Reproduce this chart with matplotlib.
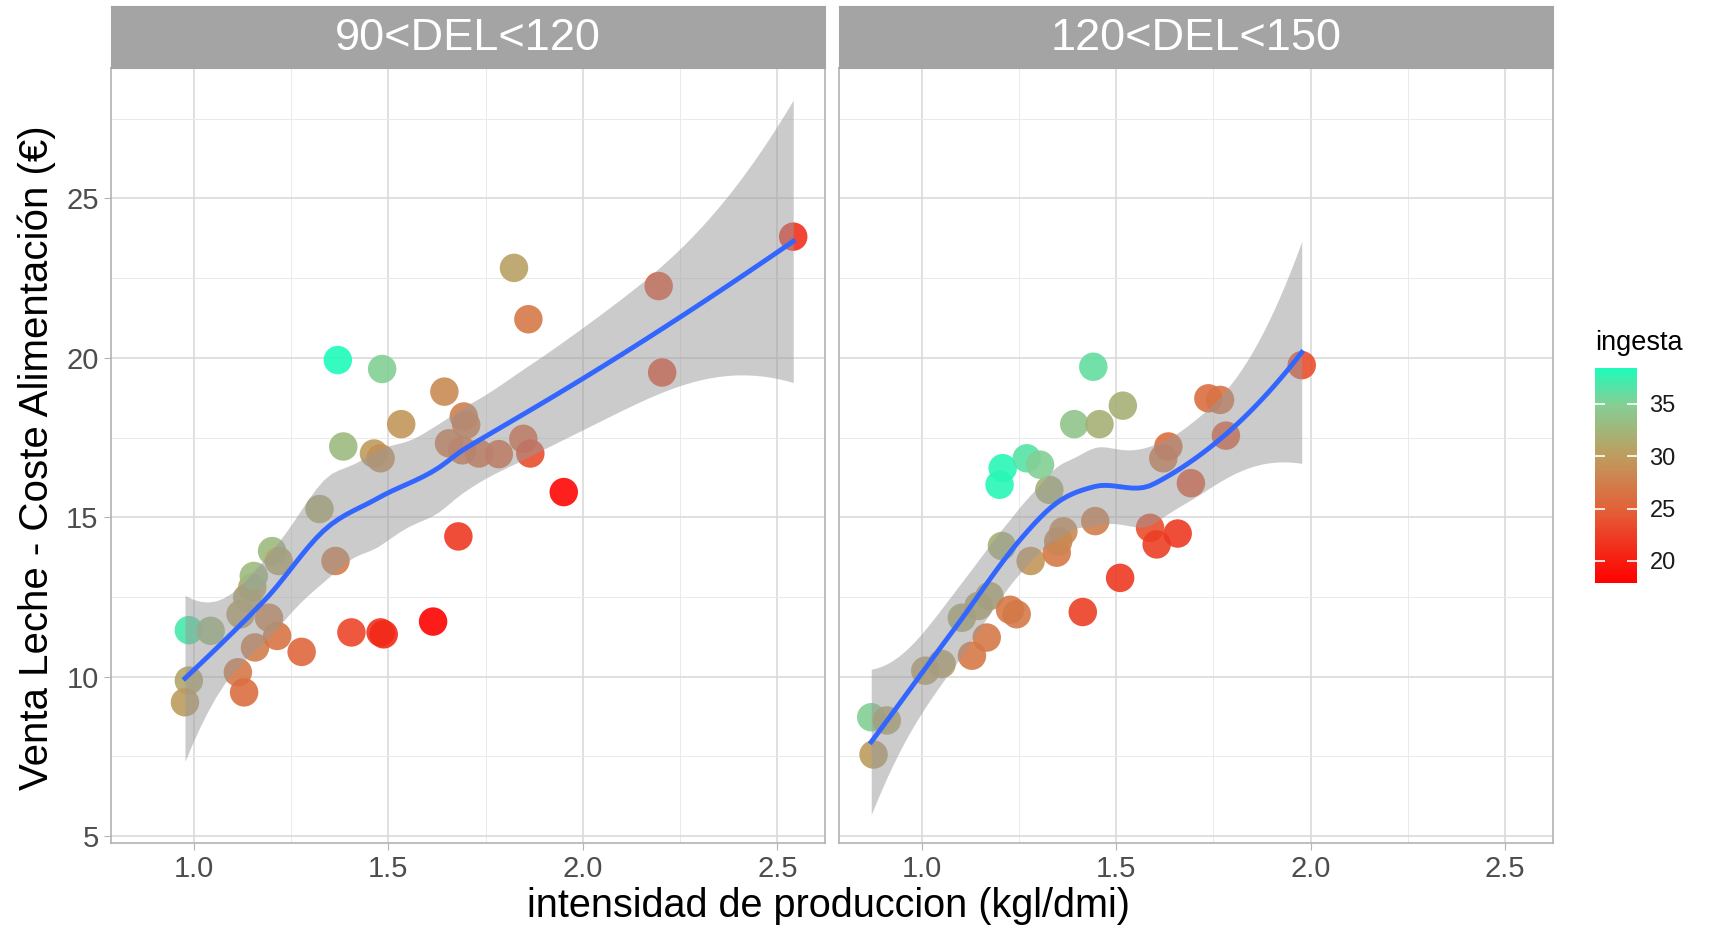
import numpy as np
import matplotlib
matplotlib.use("Agg")
import matplotlib.pyplot as plt
from matplotlib.colors import LinearSegmentedColormap, Normalize
from matplotlib.cm import ScalarMappable
from matplotlib.ticker import MultipleLocator

plt.rcParams['font.family'] = ['Liberation Sans', 'DejaVu Sans']

# panel 1: 90<DEL<120
x_a = [0.987, 1.043, 0.987, 0.977, 1.113, 1.129, 1.157, 1.214, 1.277, 1.193,
       1.120, 1.137, 1.150, 1.154, 1.201, 1.218, 1.323, 1.364, 1.405, 1.480,
       1.488, 1.615, 1.680, 1.951, 1.370, 1.484, 1.384, 1.463, 1.480, 1.533,
       1.644, 1.694, 1.700, 1.656, 1.690, 1.733, 1.784, 1.847, 1.865, 1.823,
       1.860, 2.195, 2.204, 2.541]
y_a = [11.46, 11.44, 9.88, 9.20, 10.14, 9.51, 10.92, 11.28, 10.78, 11.85,
       11.96, 12.48, 12.80, 13.16, 13.94, 13.63, 15.26, 13.63, 11.39, 11.39,
       11.33, 11.73, 14.40, 15.79, 19.93, 19.65, 17.22, 17.00, 16.85, 17.92,
       18.94, 18.16, 17.90, 17.32, 17.10, 17.00, 16.98, 17.46, 17.00, 22.82,
       21.21, 22.25, 19.54, 23.80]
ing_a = [37.0, 33.0, 31.0, 30.0, 27.0, 26.0, 27.5, 26.5, 25.5, 28.0,
         30.5, 31.0, 31.0, 33.0, 33.0, 31.0, 31.5, 27.5, 23.0, 21.5,
         21.0, 18.2, 22.0, 18.5, 38.4, 35.0, 33.0, 30.0, 29.0, 29.5,
         28.5, 27.5, 27.0, 27.0, 26.5, 26.0, 25.5, 25.5, 23.5, 30.5,
         27.0, 24.0, 23.5, 21.5]

# panel 2: 120<DEL<150
x_b = [0.870, 0.910, 0.876, 1.009, 1.051, 1.103, 1.146, 1.174, 1.129, 1.167,
       1.227, 1.244, 1.206, 1.280, 1.347, 1.351, 1.364, 1.446, 1.328, 1.200,
       1.208, 1.270, 1.304, 1.392, 1.457, 1.517, 1.441, 1.414, 1.510, 1.587,
       1.604, 1.658, 1.621, 1.634, 1.692, 1.737, 1.767, 1.782, 1.977]
y_b = [8.73, 8.63, 7.56, 10.19, 10.40, 11.85, 12.22, 12.53, 10.66, 11.23,
       12.10, 11.96, 14.10, 13.63, 13.89, 14.25, 14.56, 14.88, 15.86, 16.02,
       16.54, 16.85, 16.65, 17.92, 17.92, 18.50, 19.72, 12.03, 13.10, 14.67,
       14.15, 14.49, 16.85, 17.22, 16.07, 18.73, 18.68, 17.56, 19.77]
ing_b = [35.0, 31.0, 30.0, 30.5, 30.5, 31.5, 31.0, 31.0, 27.0, 27.0,
         27.0, 27.0, 32.0, 29.5, 27.0, 28.0, 28.5, 27.5, 32.0, 38.0,
         38.0, 36.5, 35.0, 34.0, 32.0, 32.0, 36.0, 22.5, 22.0, 23.5,
         22.5, 22.0, 27.0, 26.0, 24.0, 26.0, 26.5, 24.5, 23.5]

panels = ["90<DEL<120", "120<DEL<150"]
ing_min, ing_max = 17.9, 38.4

cmap = LinearSegmentedColormap.from_list(
    "ingesta", [(0.0, "#FF0000"), (0.35, "#E2633A"), (0.59, "#BE9C5E"),
                (0.83, "#86CE94"), (1.0, "#1EFBBA")])
norm = Normalize(ing_min, ing_max)


def t975(df):
    z = 1.959964
    g1 = (z**3 + z) / 4
    g2 = (5*z**5 + 16*z**3 + 3*z) / 96
    g3 = (3*z**7 + 19*z**5 + 17*z**3 - 15*z) / 384
    return z + g1/df + g2/df**2 + g3/df**3


def local_rows(x, x0, q):
    # local quadratic fit at x0: rows giving value and slope
    n = len(x)
    d = np.abs(x - x0)
    h = np.sort(d)[q - 1]
    w = np.clip(1 - (d / h)**3, 0, None)**3
    X = np.column_stack([np.ones(n), x - x0, (x - x0)**2])
    A = X.T @ (X * w[:, None])
    B = np.linalg.solve(A, (X * w[:, None]).T)
    return B[0], B[1]


def kd_vertices(x, fc):
    lo, hi = x.min(), x.max()
    mu = 0.005 * (hi - lo)
    verts = [lo - mu, hi + mu]

    def split(vals):
        if len(vals) <= fc:
            return
        m0 = (len(vals) - 1) // 2
        verts.append((vals[m0] + vals[m0 + 1]) / 2)
        split(vals[:m0 + 1])
        split(vals[m0 + 1:])

    split(np.sort(x))
    return np.array(sorted(verts))


def interp_rows(x, pts, span=0.75, cell=0.2):
    # loess operator with kd-tree vertices and cubic Hermite blending
    n = len(x)
    q = int(np.floor(n * span))
    verts = kd_vertices(x, int(np.floor(n * span * cell)))
    V0, V1 = zip(*[local_rows(x, v, q) for v in verts])
    V0, V1 = np.array(V0), np.array(V1)
    rows = np.zeros((len(pts), n))
    for j, p in enumerate(pts):
        k = min(np.searchsorted(verts, p, side='right') - 1, len(verts) - 2)
        h = verts[k + 1] - verts[k]
        t = (p - verts[k]) / h
        rows[j] = ((2*t**3 - 3*t**2 + 1) * V0[k] + (t**3 - 2*t**2 + t) * h * V1[k]
                   + (-2*t**3 + 3*t**2) * V0[k + 1] + (t**3 - t**2) * h * V1[k + 1])
    return rows


def smooth(x, y):
    x = np.asarray(x); y = np.asarray(y)
    xs = np.linspace(x.min(), x.max(), 80)
    L = interp_rows(x, xs)
    H = interp_rows(x, x)
    res = y - H @ y
    M = np.eye(len(x)) - H
    M = M.T @ M
    d1 = np.trace(M)
    d2 = np.trace(M @ M)
    sigma = np.sqrt(np.sum(res**2) / d1)
    se = sigma * np.sqrt(np.sum(L**2, axis=1))
    fit = L @ y
    t = t975(d1**2 / d2)
    return xs, fit, fit - t*se, fit + t*se


fig = plt.figure(figsize=(17.09, 9.30), dpi=100)
ax_l = [0.0650, 0.4909]
for i, (xv, yv, iv) in enumerate([(x_a, y_a, ing_a), (x_b, y_b, ing_b)]):
    ax = fig.add_axes([ax_l[i], 0.094, 0.4178, 0.8333])
    ax.set_xlim(0.787, 2.623)
    ax.set_ylim(4.8, 29.1)
    ax.xaxis.set_major_locator(MultipleLocator(0.5))
    ax.xaxis.set_minor_locator(MultipleLocator(0.25))
    ax.yaxis.set_major_locator(MultipleLocator(5))
    ax.yaxis.set_minor_locator(MultipleLocator(2.5))
    ax.grid(True, which='major', color='#DADADA', lw=1.2)
    ax.grid(True, which='minor', color='#EAEAEA', lw=0.7)
    ax.set_axisbelow(True)
    for s in ax.spines.values():
        s.set_color('#B3B3B3')
        s.set_linewidth(1.2)
    ax.tick_params(which='minor', length=0)
    ax.tick_params(which='major', length=5, color='#B3B3B3', labelsize=21,
                   labelcolor='#4D4D4D', pad=4)
    ax.set_xticklabels([f"{v:.1f}" for v in ax.get_xticks()])
    if i == 1:
        ax.tick_params(axis='y', left=False, labelleft=False)

    ax.scatter(xv, yv, c=iv, cmap=cmap, norm=norm, s=420, alpha=0.9,
               edgecolors='none', zorder=2)
    xs, fit, lo, hi = smooth(xv, yv)
    ax.fill_between(xs, lo, hi, color='#999999', alpha=0.5, lw=0, zorder=3)
    ax.plot(xs, fit, color='#3366FF', lw=3.5, zorder=4)

    sax = fig.add_axes([ax_l[i], 0.9273, 0.4178, 0.0667])
    sax.set_facecolor('#A4A4A4')
    sax.set_xticks([]); sax.set_yticks([])
    for s in sax.spines.values():
        s.set_color('#A4A4A4')
    sax.text(0.5, 0.47, panels[i], color='white', fontsize=32.5,
             ha='center', va='center', transform=sax.transAxes)

fig.text(0.0215, 0.508, "Venta Leche - Coste Alimentación (€)", rotation=90,
         fontsize=29, ha='center', va='center', color='black')
fig.text(0.485, 0.026, "intensidad de produccion (kgl/dmi)", fontsize=28.5,
         ha='center', va='center', color='black')

cax = fig.add_axes([0.9333, 0.3731, 0.0246, 0.2312])
cb = fig.colorbar(ScalarMappable(norm=norm, cmap=cmap), cax=cax)
cb.outline.set_visible(False)
cb.set_ticks([20, 25, 30, 35])
cax.tick_params(direction='in', length=7, width=1.2, color='white',
                left=True, right=True, labelsize=17, labelcolor='#1A1A1A', pad=9)
fig.text(0.9333, 0.631, "ingesta", fontsize=19.5, ha='left', va='center')

fig.savefig("out.png", dpi=100)
